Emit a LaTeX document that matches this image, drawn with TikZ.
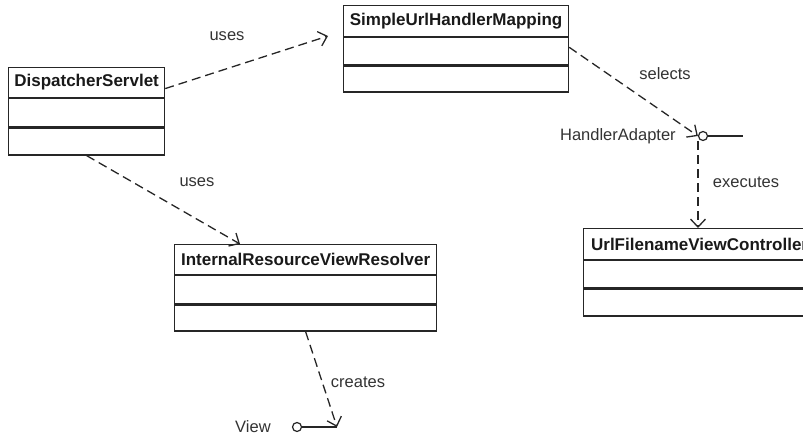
\documentclass[tikz,border=0pt]{standalone}
\usepackage{fontspec}
\setmainfont{Liberation Sans}
\usetikzlibrary{positioning, arrows.meta}

\begin{document}
\begin{tikzpicture}[
    x=1pt, y=-1pt,
    node distance=0pt,
    title/.style={draw=black!85, line width=1.2pt, minimum height=30pt, inner sep=0pt, anchor=north west, font=\fontsize{17}{19}\selectfont\bfseries, text=black!90},
    part/.style={draw=black!85, line width=1.2pt, minimum height=27pt, inner sep=0pt},
    lbl/.style={font=\fontsize{16.5}{19}\selectfont, text=black!80, inner sep=0pt},
    dep/.style={-{Straight Barb[length=8pt, width=15pt]}, line width=1.3pt, draw=black!85, dash pattern=on 9pt off 5pt},
    iface/.style={circle, draw=black!85, line width=1.2pt, minimum size=9pt, inner sep=0pt},
    stub/.style={line width=1.2pt, draw=black!85}
]
\useasboundingbox (0,0) rectangle (803,438);
\clip (0,0) rectangle (803,438);

% classes
\node[title, minimum width=156pt] (ds) at (8,67) {DispatcherServlet};
\node[part, minimum width=156pt, minimum height=28pt, below=of ds] (ds attr) {};
\node[part, minimum width=156pt, below=of ds attr] (ds ops) {};

\node[title, minimum width=225pt, minimum height=31pt] (suhm) at (343,5) {SimpleUrlHandlerMapping};
\node[part, minimum width=225pt, below=of suhm] (suhm attr) {};
\node[part, minimum width=225pt, minimum height=26pt, below=of suhm attr] (suhm ops) {};

\node[title, minimum width=262pt] (irvr) at (174,244) {InternalResourceViewResolver};
\node[part, minimum width=262pt, minimum height=28pt, below=of irvr] (irvr attr) {};
\node[part, minimum width=262pt, minimum height=26pt, below=of irvr attr] (irvr ops) {};

\node[title, minimum width=232pt, minimum height=31pt] (ufvc) at (583,228) {UrlFilenameViewController};
\node[part, minimum width=232pt, below=of ufvc] (ufvc attr) {};
\node[part, minimum width=232pt, below=of ufvc attr] (ufvc ops) {};

% interfaces
\node[iface] (ha) at (703,136) {};
\coordinate (ha end) at (743,136);
\node[lbl, left=22pt of ha] (ha label) {HandlerAdapter};
\draw[stub] (ha) -- (ha end);

\node[iface] (view) at (297,427) {};
\coordinate (view end) at (337,427);
\node[lbl, left=21pt of view] (view label) {View};
\draw[stub] (view) -- (view end);

% dependencies
\coordinate (uses1 end) at (328,36);
\coordinate (uses2 end) at (240,244);
\draw[dep] ([yshift=-6pt]ds.east) -- (uses1 end);
\draw[dep] (ds ops.south) -- (uses2 end);
\draw[dep] ([yshift=4pt]suhm attr.east) -- (ha.west);
\draw[dep] ([xshift=-5pt]ha.south) -- ([xshift=-5pt]ha.south |- ufvc.north);
\draw[dep] (irvr ops.south) -- (view end);

\node[lbl] (uses1) at (227,36) {uses};
\node[lbl] (uses2) at (197,182) {uses};
\node[lbl] (selects) at (665,74) {selects};
\node[lbl] (executes) at (746,182) {executes};
\node[lbl] (creates) at (358,382) {creates};

\end{tikzpicture}
\end{document}
